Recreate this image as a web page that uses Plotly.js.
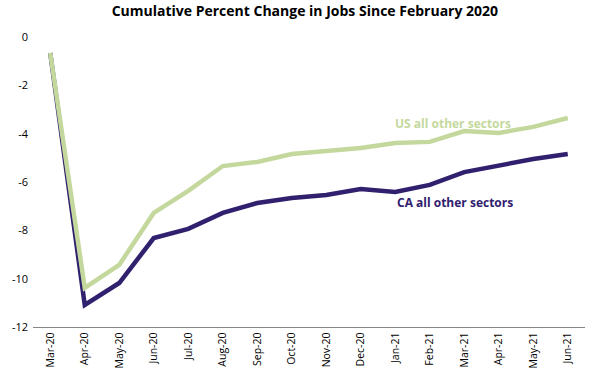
<!DOCTYPE html>
<html><head><meta charset="utf-8">
<script src="https://cdn.plot.ly/plotly-3.0.1.min.js"></script>
<style>html,body{margin:0;padding:0;background:#fff}#chart{width:592px;height:384px}</style>
</head><body><div id="chart"></div>
<script>
const months = ["Mar-20","Apr-20","May-20","Jun-20","Jul-20","Aug-20","Sep-20","Oct-20","Nov-20","Dec-20","Jan-21","Feb-21","Mar-21","Apr-21","May-21","Jun-21"];
const usOther = [-0.66,-10.38,-9.43,-7.28,-6.37,-5.34,-5.17,-4.84,-4.72,-4.59,-4.39,-4.34,-3.89,-3.97,-3.72,-3.35];
const caOther = [-0.66,-11.09,-10.18,-8.32,-7.94,-7.28,-6.87,-6.66,-6.54,-6.29,-6.41,-6.12,-5.59,-5.30,-5.05,-4.84];
const yTicks = [0,-2,-4,-6,-8,-10,-12];
const font = "'Open Sans', 'Liberation Sans', sans-serif";

const traces = [
  {x: months, y: caOther, type:'scatter', mode:'lines', name:'CA all other sectors',
   line:{color:'#30206e', width:4.5}},
  {x: months, y: usOther, type:'scatter', mode:'lines', name:'US all other sectors',
   line:{color:'#c4d89d', width:4.5}}
];
const layout = {
  width:592, height:384,
  margin:{l:33, r:7, t:37, b:57},
  paper_bgcolor:'#fff', plot_bgcolor:'#fff',
  showlegend:false,
  font:{family:font, color:'#000'},
  title:{text:'<b>Cumulative Percent Change in Jobs Since February 2020</b>',
         font:{size:14, family:font, color:'#000'}, x:0.515, xanchor:'center', y:0.97, yanchor:'middle'},
  xaxis:{type:'category', tickangle:-90, tickfont:{size:10.5, family:font}, showgrid:false,
         showline:true, linecolor:'#868686', linewidth:1.3, ticks:'', zeroline:false,
         range:[-0.5, months.length-0.5]},
  yaxis:{range:[-12,0], tickvals:yTicks, ticktext:yTicks.map(String), showgrid:false, zeroline:false,
         showline:false, ticks:'', tickfont:{size:11, family:font}, ticklabelstandoff:4},
  annotations:[
    {text:'<b>US all other sectors</b>', xref:'paper', yref:'paper', x:(453-33)/552, y:(327-123)/290,
     xanchor:'center', yanchor:'middle',
     showarrow:false, font:{size:12, color:'#c4d89d', family:font}},
    {text:'<b>CA all other sectors</b>', xref:'paper', yref:'paper', x:(455-33)/552, y:(327-202)/290,
     xanchor:'center', yanchor:'middle',
     showarrow:false, font:{size:12, color:'#30206e', family:font}}
  ]
};
Plotly.newPlot('chart', traces, layout, {displayModeBar:false, staticPlot:true});
</script></body></html>
